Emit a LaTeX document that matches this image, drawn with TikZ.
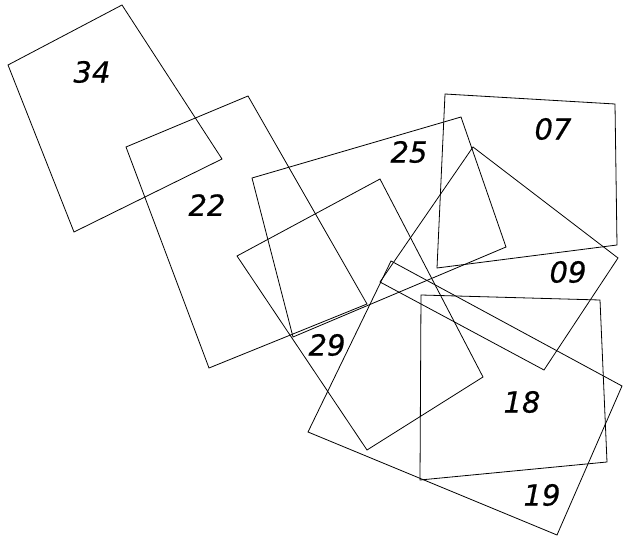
\documentclass[tikz,border=0pt]{standalone}
\usepackage{fontspec}
\newfontfamily\tagfont[FakeBold=0.6]{DejaVu Sans}
\usepackage{tikz}
\usetikzlibrary{calc}
\tikzset{
  footprint/.style={draw=black, line width=0.8pt, line join=miter},
  tag/.style={font=\tagfont\itshape\fontsize{29}{31}\selectfont, inner sep=0pt, text=black}
}

\begin{document}
\begin{tikzpicture}[x=1pt, y=-1pt]
      \useasboundingbox (0,0) rectangle (624,537);
      % image footprints
      \draw[footprint] (122,5) -- (222,159) -- (74,232) -- (8,65) -- cycle;
      \draw[footprint] (126,147) -- (248,96) -- (367,304) -- (209,368) -- cycle;
      \draw[footprint] (252,178) -- (461,117) -- (506,247) -- (293,337) -- cycle;
      \draw[footprint] (445,94) -- (615,104) -- (617,245) -- (437,268) -- cycle;
      \draw[footprint] (473,147) -- (618,258) -- (544,370) -- (380,282) -- cycle;
      \draw[footprint] (380,179) -- (483,377) -- (367,450) -- (237,256) -- cycle;
      \draw[footprint] (421,295) -- (600,300) -- (607,462) -- (420,480) -- cycle;
      \draw[footprint] (391,261) -- (622,386) -- (557,535) -- (308,432) -- cycle;
      % labels
      \node[tag] (t34) at (92,72) {34};
      \node[tag] (t22) at (207,205) {22};
      \node[tag] (t25) at (409,152) {25};
      \node[tag] (t07) at (553,129) {07};
      \node[tag] (t09) at (568,272) {09};
      \node[tag] (t29) at (327,345) {29};
      \node[tag] (t18) at (522,402) {18};
      \node[tag] (t19) at (542,495) {19};
    \end{tikzpicture}
\end{document}
